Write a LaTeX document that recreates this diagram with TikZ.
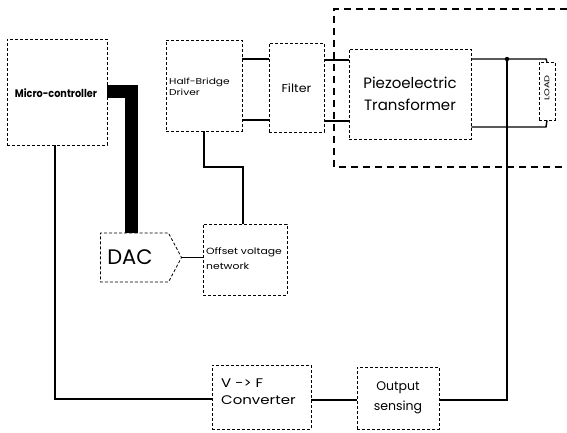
\documentclass[tikz,border=0pt]{standalone}
\usepackage{fontspec}
\setmainfont{Poppins}
\usetikzlibrary{shapes.symbols}
\begin{document}
\begin{tikzpicture}[x=1pt,y=-1pt,
  blk/.style={draw, densely dashed, line width=0.8pt, inner sep=0pt, rectangle},
  wire/.style={line width=1.4pt},
  encl/.style={line width=1.4pt, dash pattern=on 7pt off 5pt}
]
\useasboundingbox (0,0) rectangle (567,432);
\fill[white] (0,0) rectangle (567,432);

% enclosure
\draw[encl] (567,9) -- (334,9) -- (334,167) -- (567,167);

% blocks
\node[blk, minimum width=100pt, minimum height=106pt] (mc) at (57,92) {};
\node[font=\fontsize{11}{12}\selectfont\bfseries] (mct) at (56,93) {\scalebox{0.88}[1]{Micro-controller}};

\node[blk, minimum width=76pt, minimum height=91pt] (hb) at (204,85.5) {};
\node[anchor=west, align=left, inner sep=0pt, font=\fontsize{8.5}{11}\selectfont] (hbt) at (169,87) {\scalebox{1.25}[1]{Half-Bridge}\\\scalebox{1.25}[1]{Driver}};

\node[blk, minimum width=55pt, minimum height=89pt] (fil) at (296.5,87.5) {};
\node[font=\fontsize{11.5}{12}\selectfont, inner sep=0pt] (filt) at (296.5,88) {\scalebox{1.1}[1]{Filter}};

\node[blk, minimum width=122pt, minimum height=90pt, align=center, font=\fontsize{15}{22}\selectfont] (pz) at (410,94) {Piezoelectric\\Transformer};

\node[blk, minimum width=16pt, minimum height=58pt, line width=0.6pt] (ld) at (547,91) {};
\node[rotate=90, font=\fontsize{7}{8}\selectfont, inner sep=0pt] (ldt) at (547,88) {\scalebox{1.4}[1]{LOAD}};

\node[blk, minimum width=84pt, minimum height=71pt] (ov) at (245,259.5) {};
\node[anchor=west, align=left, inner sep=0pt, font=\fontsize{9}{15}\selectfont] (ovt) at (206,259) {\scalebox{1.2}[1]{Offset voltage}\\\scalebox{1.2}[1]{network}};

\node[draw, densely dashed, line width=0.8pt, signal, signal to=east, signal pointer angle=124,
      minimum width=81pt, minimum height=49pt, inner sep=0pt, font=\fontsize{21}{22}\selectfont] (dac) at (134.5,257.5) {\hspace{-9pt}DAC};

\node[blk, minimum width=99pt, minimum height=64pt] (vf) at (261.5,397) {};
\node[anchor=west, align=left, inner sep=0pt, font=\fontsize{12.5}{17}\selectfont] (vft) at (221,392) {\scalebox{1.2}[1]{V -> F}\\\scalebox{1.2}[1]{Converter}};

\node[blk, minimum width=82pt, minimum height=62pt, align=center, font=\fontsize{12.5}{20}\selectfont] (os) at (398,398) {Output\\sensing};

% connections
\coordinate (c1) at (131,91);
\draw[line width=13pt, line join=miter] (mc.east |- c1) -- (c1) -- (dac.north -| c1);

\coordinate (c2) at (55,399);
\draw[wire, line width=2pt] (mc.south -| c2) -- (c2) -- (vf.west |- c2);

\draw[wire] (hb.east |- 0,59) -- (fil.west |- 0,59);
\draw[wire] (hb.east |- 0,120) -- (fil.west |- 0,120);
\draw[wire] (fil.east |- 0,60) -- (pz.west |- 0,60);
\draw[wire] (fil.east |- 0,121) -- (pz.west |- 0,121);

\coordinate (j1) at (507,59);
\draw[wire] (pz.east |- j1) -- (546,59) -- (ld.north);
\draw[wire] (pz.east |- 0,127) -- (546,127) -- (ld.south);
\fill (j1) circle (2.2pt);
\coordinate (c3) at (507,400);
\draw[wire] (j1) -- (c3) -- (os.east |- c3);

\draw[wire] (vf.east |- 0,400) -- (os.west |- 0,400);

\coordinate (h1) at (204,167);
\coordinate (h2) at (243,167);
\draw[wire] (hb.south -| h1) -- (h1) -- (h2) -- (ov.north -| h2);

\draw[wire] (dac.east) -- (ov.west |- dac.east);
\end{tikzpicture}
\end{document}
